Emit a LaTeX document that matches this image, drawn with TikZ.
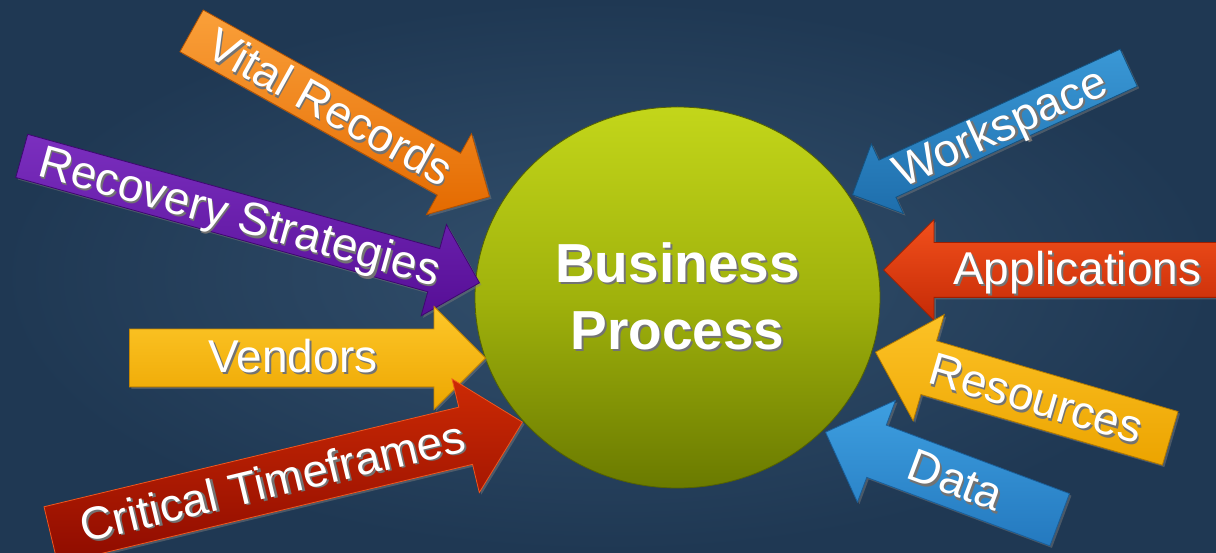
\documentclass[tikz,border=0pt]{standalone}
\usepackage{fontspec}
\setmainfont{Liberation Sans}
\usetikzlibrary{shapes.arrows,shapes.geometric,shadows}

\definecolor{bgin}{HTML}{33506D}
\definecolor{bgout}{HTML}{1F3853}
\definecolor{limetop}{HTML}{C3D61A}
\definecolor{limemid}{HTML}{A0B20C}
\definecolor{limebot}{HTML}{6A7A00}

\newcommand{\shtxt}[1]{\makebox[0pt][l]{\kern2pt\raisebox{-2pt}{\color{black!55}#1}}#1}

\tikzset{
  blockarrow/.style={single arrow, single arrow tip angle=90, anchor=tip,
    inner xsep=6pt, inner ysep=0pt, minimum width=0pt, line width=.8pt,
    text=white, font=\fontsize{46}{50}\selectfont,
    drop shadow={shadow xshift=2pt, shadow yshift=-2pt, opacity=.45}},
  pointleft/.style={shape border rotate=180},
}

\begin{document}
\begin{tikzpicture}[x=1pt,y=1pt]
    \useasboundingbox (0,0) rectangle (1216,552);
    \clip (0,0) rectangle (1216,552);
    \shade[inner color=bgin, outer color=bgout] (0,0) rectangle (1216,552);

    \node[ellipse, minimum width=405pt, minimum height=381pt, top color=limetop, bottom color=limebot,
      middle color=limemid, draw=limebot!80!black, line width=.8pt, text=white, align=center,
      font=\fontsize{55}{67}\selectfont\bfseries] (bp) at (677.5,254.5) {\shtxt{Business}\\ \shtxt{Process}};

    % arrows on the left
    \node[blockarrow, top color={rgb,255:red,250;green,160;blue,58}, bottom color={rgb,255:red,228;green,106;blue,0},
      draw={rgb,255:red,176;green,80;blue,0}, text height=38.5pt, text depth=8.5pt,
      single arrow head extend=22.5pt, minimum height=341pt, rotate=-29.1] (vital) at (490,355) {\shtxt{Vital Records}};
    \node[blockarrow, top color={rgb,255:red,123;green,47;blue,191}, bottom color={rgb,255:red,86;green,14;blue,150},
      draw={rgb,255:red,62;green,7;blue,112}, text height=37pt, text depth=7pt,
      single arrow head extend=25pt, minimum height=475pt, rotate=-15.5] (recovery) at (480,269) {\shtxt{Recovery Strategies}};
    \node[blockarrow, top color={rgb,255:red,253;green,199;blue,42}, bottom color={rgb,255:red,237;green,166;blue,0},
      draw={rgb,255:red,199;green,135;blue,0}, text height=43.5pt, text depth=13.5pt,
      single arrow head extend=22.5pt, minimum height=356pt] (vendors) at (486,194) {\shtxt{Vendors}};
    \node[blockarrow, top color={rgb,255:red,204;green,42;blue,4}, bottom color={rgb,255:red,142;green,11;blue,0},
      draw={rgb,255:red,240;green,86;blue,30}, text height=44pt, text depth=14pt,
      single arrow head extend=29pt, minimum height=485pt, rotate=13.5] (critical) at (523,130) {\shtxt{Critical Timeframes}};

    % arrows on the right
    \node[blockarrow, pointleft, top color={rgb,255:red,58;green,152;blue,214}, bottom color={rgb,255:red,30;green,110;blue,172},
      draw={rgb,255:red,20;green,82;blue,128}, text height=35pt, text depth=5pt,
      single arrow head extend=18pt, minimum height=304pt, rotate=24.7] (workspace) at (852,357) {\shtxt{Workspace}};
    \node[blockarrow, pointleft, top color={rgb,255:red,242;green,80;blue,28}, bottom color={rgb,255:red,197;green,42;blue,6},
      draw={rgb,255:red,160;green,30;blue,0}, text height=42pt, text depth=12pt,
      single arrow head extend=23pt, minimum height=360pt] (apps) at (883,282) {\shtxt{Applications}};
    \node[blockarrow, pointleft, top color={rgb,255:red,252;green,194;blue,38}, bottom color={rgb,255:red,236;green,164;blue,0},
      draw={rgb,255:red,176;green,120;blue,0}, text height=42.5pt, text depth=12.5pt,
      single arrow head extend=27.5pt, minimum height=307pt, rotate=-16.3] (resources) at (875,200) {\shtxt{Resources}};
    \node[blockarrow, pointleft, top color={rgb,255:red,62;green,159;blue,224}, bottom color={rgb,255:red,36;green,121;blue,191},
      draw={rgb,255:red,26;green,94;blue,152}, text height=42.5pt, text depth=12.5pt,
      single arrow head extend=26.5pt, minimum height=250pt, rotate=-20.5] (data) at (825,120) {\shtxt{Data}};
  \end{tikzpicture}
\end{document}
